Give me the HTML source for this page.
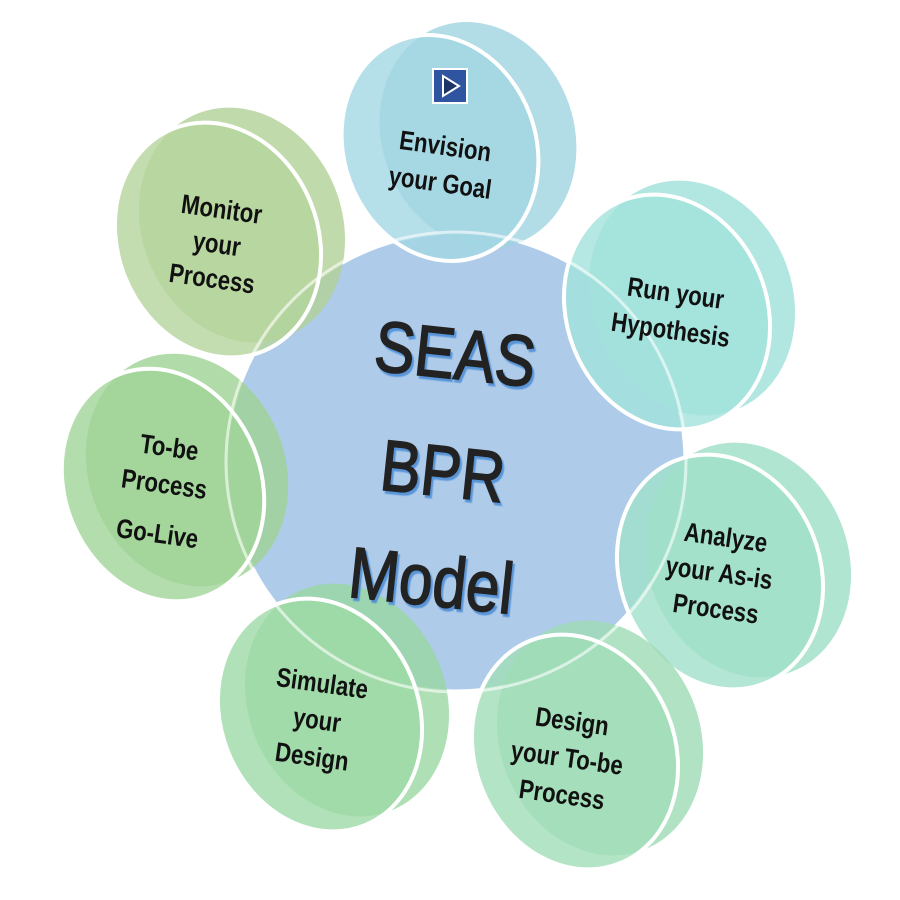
<!DOCTYPE html>
<html><head><meta charset="utf-8"><style>
html,body{margin:0;padding:0;background:#fff;width:900px;height:900px;overflow:hidden}
svg text{font-family:"Liberation Sans",sans-serif;fill:#111;text-anchor:middle}
.b{font-weight:bold}
.c{font-weight:normal;fill:#222;stroke:#222;stroke-width:1.6}
</style></head><body>
<svg width="900" height="900" viewBox="0 0 900 900" xmlns="http://www.w3.org/2000/svg">
<defs>
<filter id="sh"><feDropShadow dx="2" dy="3" stdDeviation="0.5" flood-color="#4f8fd6" flood-opacity="0.9"/></filter>
</defs>
<circle cx="456" cy="462" r="230" fill="#aecbe9" stroke="#fff" stroke-width="5"/>
<g fill-opacity="0.8">
<ellipse cx="478" cy="135" rx="96" ry="115" transform="rotate(-20 478 135)" fill="#9fd3e0"/>
<ellipse cx="440" cy="148" rx="96" ry="115" transform="rotate(-20 440 148)" fill="#a3d7e3" stroke="#fff" stroke-width="4"/>
<ellipse cx="242" cy="225" rx="100" ry="120" transform="rotate(-22 242 225)" fill="#b1d197"/>
<ellipse cx="218" cy="240" rx="100" ry="120" transform="rotate(-22 218 240)" fill="#b5d49c" stroke="#fff" stroke-width="4"/>
<ellipse cx="692" cy="298" rx="100" ry="120" transform="rotate(-22 692 298)" fill="#9ee0da"/>
<ellipse cx="667" cy="312" rx="100" ry="120" transform="rotate(-22 667 312)" fill="#a2e2dc" stroke="#fff" stroke-width="4"/>
<ellipse cx="748" cy="560" rx="100" ry="120" transform="rotate(-22 748 560)" fill="#9cdec6"/>
<ellipse cx="720" cy="572" rx="100" ry="120" transform="rotate(-22 720 572)" fill="#a0e0c9" stroke="#fff" stroke-width="4"/>
<ellipse cx="600" cy="738" rx="100" ry="120" transform="rotate(-22 600 738)" fill="#9ddbb4"/>
<ellipse cx="575" cy="752" rx="100" ry="120" transform="rotate(-22 575 752)" fill="#a1ddb8" stroke="#fff" stroke-width="4"/>
<ellipse cx="347" cy="700" rx="99" ry="119" transform="rotate(-22 347 700)" fill="#9ad7a2"/>
<ellipse cx="320" cy="715" rx="99" ry="119" transform="rotate(-22 320 715)" fill="#9edaa6" stroke="#fff" stroke-width="4"/>
<ellipse cx="187" cy="470" rx="98" ry="119" transform="rotate(-22 187 470)" fill="#9dd294"/>
<ellipse cx="163" cy="485" rx="98" ry="119" transform="rotate(-22 163 485)" fill="#a1d598" stroke="#fff" stroke-width="4"/>
</g>
<circle cx="456" cy="462" r="230" fill="none" stroke="#fff" stroke-width="3" stroke-opacity="0.6"/>
<rect x="433" y="69" width="34" height="34" fill="#2f55a0" stroke="#fff" stroke-width="2"/>
<polygon points="443,76 443,96 459,86" fill="#1d3566" stroke="#fff" stroke-width="2"/>
<g font-size="27" class="b">
<g transform="rotate(8 442 170) translate(442 0) scale(0.82 1) translate(-442 0)"><text><tspan x="442" y="155">Envision</tspan><tspan x="442" y="192">your Goal</tspan></text></g>
<g transform="rotate(8 216 250) translate(216 0) scale(0.82 1) translate(-216 0)"><text><tspan x="216" y="218">Monitor</tspan><tspan x="216" y="253">your</tspan><tspan x="216" y="288">Process</tspan></text></g>
<g transform="rotate(8 672 320) translate(672 0) scale(0.82 1) translate(-672 0)"><text><tspan x="672" y="302">Run your</tspan><tspan x="672" y="339">Hypothesis</tspan></text></g>
<g transform="rotate(8 719 580) translate(719 0) scale(0.82 1) translate(-719 0)"><text><tspan x="720" y="546">Analyze</tspan><tspan x="718" y="582">your As-is</tspan><tspan x="720" y="618">Process</tspan></text></g>
<g transform="rotate(8 566 765) translate(566 0) scale(0.82 1) translate(-566 0)"><text><tspan x="566" y="730">Design</tspan><tspan x="566" y="767">your To-be</tspan><tspan x="566" y="804">Process</tspan></text></g>
<g transform="rotate(8 316 728) translate(316 0) scale(0.82 1) translate(-316 0)"><text><tspan x="316" y="692">Simulate</tspan><tspan x="316" y="729">your</tspan><tspan x="316" y="766">Design</tspan></text></g>
<g transform="rotate(8 162 500) translate(162 0) scale(0.82 1) translate(-162 0)"><text><tspan x="162" y="456">To-be</tspan><tspan x="162" y="493">Process</tspan><tspan x="162" y="543">Go-Live</tspan></text></g>
</g>
<g font-size="72" filter="url(#sh)">
<g transform="rotate(6 442 480) translate(442 0) scale(0.84 1) translate(-442 0)">
<text x="442" y="378" class="c">SEAS</text>
<text x="442" y="496" class="c">BPR</text>
<text x="442" y="606" class="c">Model</text>
</g>
</g>
</svg>
</body></html>
